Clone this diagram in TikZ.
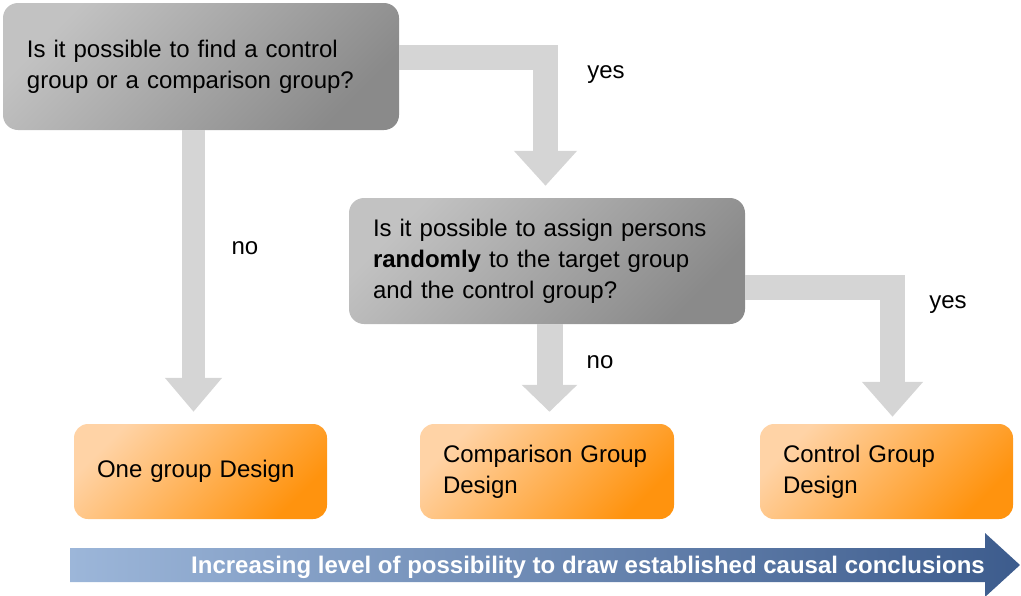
\documentclass[tikz,border=0pt]{standalone}
\usepackage{fontspec}
\setmainfont{Liberation Sans}
\usetikzlibrary{arrows.meta,calc}
\definecolor{grayL}{HTML}{C2C2C2}
\definecolor{grayD}{HTML}{8A8A8A}
\definecolor{orL}{HTML}{FFD3A6}
\definecolor{orD}{HTML}{FF930E}
\definecolor{band}{HTML}{D5D5D5}
\definecolor{blueL}{HTML}{9CB6D9}
\definecolor{blueD}{HTML}{3D5C8D}
\begin{document}
\begin{tikzpicture}[x=1pt,y=1pt,
  txt/.style={font=\fontsize{24}{31}\selectfont},
  question/.style={txt, rounded corners=15pt, top color=grayL, bottom color=grayD, shading angle=45, align=left, inner xsep=24pt, inner ysep=0pt},
  design/.style={txt, rounded corners=14pt, top color=orL, bottom color=orD, shading angle=45, align=left, inner xsep=23pt, inner ysep=0pt, minimum height=95pt},
  bigarrow/.style={draw=band, line join=miter},
  lbl/.style={txt, inner sep=0pt}]

\useasboundingbox (0,0) rectangle (1021,-595);

% decision boxes
\node[question, text width=348pt, minimum height=127pt] (q1) at (201,-66.5)
  {Is it possible to find a control\\group or a comparison group?};
\node[question, text width=348pt, minimum height=126pt] (q2) at (547,-261)
  {Is it possible to assign persons\\\textbf{randomly} to the target group\\and the control group?};

% result boxes
\node[design, text width=207pt] (o1) at (200.5,-471.5) {One group Design};
\node[design, text width=208pt] (o2) at (547,-471.5) {Comparison Group\\Design};
\node[design, text width=207pt] (o3) at (886.5,-471.5) {Control Group\\Design};

% connectors
\draw[bigarrow, line width=23pt, -{Triangle[width=55pt,length=34pt]}, shorten >=12pt]
  ([xshift=-7.5pt]q1.south) -- ([xshift=-7.5pt]q1.south |- o1.north);
\draw[bigarrow, line width=25pt, -{Triangle[width=61pt,length=35pt]}, shorten >=12pt]
  ([yshift=9.5pt]q1.east) -| ([xshift=-1.5pt]q2.north);
\draw[bigarrow, line width=26pt, -{Triangle[width=54pt,length=27pt]}, shorten >=12pt]
  ([xshift=2.5pt]q2.south) -- ([xshift=2.5pt]q2.south |- o2.north);
\draw[bigarrow, line width=25pt, -{Triangle[width=59pt,length=35pt]}, shorten >=7pt]
  ([yshift=-26.5pt]q2.east) -| ([xshift=6pt]o3.north);

% labels
\node[lbl] (yes1) at (606,-75) {yes};
\node[lbl] (no1) at (245,-248) {no};
\node[lbl] (no2) at (600,-362) {no};
\node[lbl] (yes2) at (948,-305) {yes};

% bottom scale arrow
\path[left color=blueL, right color=blueD]
  (70,-548) -- (985,-548) -- (985,-533) -- (1020,-565) -- (985,-597) -- (985,-582) -- (70,-582) -- cycle;
\node[font=\bfseries\fontsize{24}{28}\selectfont, text=white, anchor=east, inner sep=0pt] (scaletext) at (985,-567)
  {Increasing level of possibility to draw established causal conclusions};
\end{tikzpicture}
\end{document}
